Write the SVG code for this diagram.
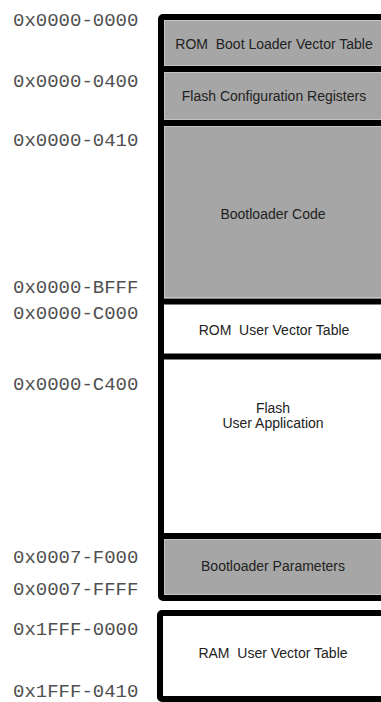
<svg xmlns="http://www.w3.org/2000/svg" width="381" height="702" viewBox="0 0 381 702">
<style>
.addr{font-family:"Liberation Mono","Courier New",monospace;font-size:19px;fill:#505050}
.lbl{font-family:"Liberation Sans",Arial,sans-serif;font-size:14px;fill:#222;text-anchor:middle;white-space:pre}
.gray{fill:#a6a6a6;stroke:#c4c4c4;stroke-width:1}
.white{fill:#fff}
.frame{fill:none;stroke:#000;stroke-width:6}
.div{stroke:#000;stroke-width:6}
</style>
<rect width="381" height="702" fill="#fff"/>
<g id="addresses">
<text class="addr" x="13" y="26">0x0000-0000</text>
<text class="addr" x="13" y="87">0x0000-0400</text>
<text class="addr" x="13" y="146">0x0000-0410</text>
<text class="addr" x="13" y="293">0x0000-BFFF</text>
<text class="addr" x="13" y="319">0x0000-C000</text>
<text class="addr" x="13" y="390">0x0000-C400</text>
<text class="addr" x="13" y="563">0x0007-F000</text>
<text class="addr" x="13" y="595">0x0007-FFFF</text>
<text class="addr" x="13" y="635">0x1FFF-0000</text>
<text class="addr" x="13" y="697">0x1FFF-0410</text>
</g>
<g id="rom-boot-vector">
<rect class="gray" x="164.5" y="20.5" width="230" height="45"/>
<text class="lbl" x="274" y="49" xml:space="preserve">ROM  Boot Loader Vector Table</text>
</g>
<g id="flash-config">
<rect class="gray" x="164.5" y="72.5" width="230" height="47"/>
<text class="lbl" x="274" y="101">Flash Configuration Registers</text>
</g>
<g id="bootloader-code">
<rect class="gray" x="164.5" y="126.5" width="230" height="171"/>
<text class="lbl" x="273" y="219">Bootloader Code</text>
</g>
<g id="rom-user-vector">
<rect class="white" x="164" y="305" width="230" height="48"/>
<text class="lbl" x="274" y="335" xml:space="preserve">ROM  User Vector Table</text>
</g>
<g id="flash-user-app">
<rect class="white" x="164" y="360" width="230" height="173"/>
<text class="lbl" x="273" y="413">Flash</text>
<text class="lbl" x="273" y="428">User Application</text>
</g>
<g id="bootloader-params">
<rect class="gray" x="164.5" y="539.5" width="230" height="55"/>
<text class="lbl" x="273" y="571">Bootloader Parameters</text>
</g>
<g id="frame-flash">
<rect class="frame" x="161" y="17" width="240" height="581" rx="2"/>
<line class="div" x1="158" y1="69" x2="401" y2="69"/>
<line class="div" x1="158" y1="123" x2="401" y2="123"/>
<line class="div" x1="158" y1="301.5" x2="401" y2="301.5"/>
<line class="div" x1="158" y1="356.5" x2="401" y2="356.5"/>
<line class="div" x1="158" y1="536" x2="401" y2="536"/>
</g>
<g id="ram-user-vector">
<rect class="white" x="163" y="616" width="230" height="80"/>
<rect class="frame" x="160" y="613" width="241" height="86" rx="2"/>
<text class="lbl" x="273" y="658" xml:space="preserve">RAM  User Vector Table</text>
</g>
</svg>
